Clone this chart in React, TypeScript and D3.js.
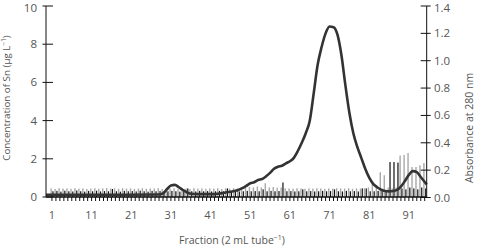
import React from "react";
import * as d3 from "d3";

const fractions = d3.range(1, 96);
const xTickLabels = [1, 11, 21, 31, 41, 51, 61, 71, 81, 91];
const leftTicks = [0, 2, 4, 6, 8, 10];
const rightTicks = [0, 0.2, 0.4, 0.6, 0.8, 1.0, 1.2, 1.4];

// Sn concentration (µg/L), gray bars
const snGray = [
  0.45, 0.42, 0.46, 0.44, 0.45, 0.43, 0.46, 0.44, 0.45, 0.42,
  0.44, 0.46, 0.43, 0.45, 0.47, 0.44, 0.45, 0.43, 0.46, 0.44,
  0.45, 0.42, 0.44, 0.46, 0.43, 0.45, 0.44, 0.46, 0.42, 0.45,
  0.44, 0.46, 0.43, 0.45, 0.44, 0.42, 0.46, 0.44, 0.45, 0.43,
  0.45, 0.44, 0.46, 0.42, 0.45, 0.44, 0.46, 0.45, 0.5, 0.48,
  0.52, 0.5, 0.55, 0.5, 0.72, 0.5, 0.52, 0.48, 0.5, 0.46,
  0.45, 0.44, 0.46, 0.45, 0.43, 0.45, 0.44, 0.46, 0.45, 0.43,
  0.45, 0.44, 0.46, 0.45, 0.44, 0.46, 0.43, 0.45, 0.44, 0.46,
  0.5, 0.8, 0.5, 1.3, 1.14, 0.5, 0.45, 0.5, 2.17, 2.2,
  2.3, 1.57, 1.57, 1.66, 1.78,
];

// Sn concentration (µg/L), black bars
const snBlack = [
  0.3, 0.32, 0.28, 0.33, 0.3, 0.29, 0.34, 0.3, 0.28, 0.32,
  0.3, 0.33, 0.29, 0.31, 0.3, 0.42, 0.3, 0.28, 0.32, 0.3,
  0.31, 0.29, 0.33, 0.3, 0.28, 0.32, 0.3, 0.31, 0.29, 0.3,
  0.32, 0.3, 0.28, 0.31, 0.45, 0.3, 0.29, 0.32, 0.3, 0.31,
  0.29, 0.3, 0.32, 0.3, 0.45, 0.3, 0.31, 0.29, 0.3, 0.32,
  0.3, 0.31, 0.3, 0.4, 0.3, 0.32, 0.3, 0.31, 0.76, 0.3,
  0.31, 0.29, 0.3, 0.4, 0.3, 0.31, 0.29, 0.3, 0.32, 0.3,
  0.31, 0.4, 0.3, 0.29, 0.32, 0.3, 0.31, 0.29, 0.45, 0.45,
  0.3, 0.3, 0.32, 0.35, 0.3, 1.83, 1.83, 1.8, 0.45, 0.4,
  0.5, 0.45, 0.4, 0.5, 0.45,
];

// Absorbance at 280 nm
const absFractions = [
  -0.5, 1, 10, 20, 28, 29, 30, 31, 32, 33, 34, 35, 36, 38, 42, 43, 44, 45, 46, 47, 48,
  49, 50, 51, 52, 53, 54, 55, 56, 57, 58, 59, 60, 61, 62, 63, 64, 65, 66,
  67, 68, 69, 70, 71, 72, 73, 74, 75, 76, 77, 78, 79, 80, 81, 82, 83, 84,
  85, 86, 87, 88, 89, 90, 91, 92, 93, 94, 95.5,
];
const absValues = [
  0.02, 0.02, 0.02, 0.02, 0.022, 0.03, 0.06, 0.088, 0.092, 0.075, 0.055, 0.038, 0.028, 0.025, 0.025, 0.028, 0.032, 0.038, 0.042, 0.048, 0.055,
  0.068, 0.085, 0.104, 0.112, 0.128, 0.135, 0.155, 0.18, 0.21, 0.225, 0.232, 0.25, 0.265, 0.29, 0.34, 0.4, 0.47, 0.56,
  0.76, 0.97, 1.1, 1.2, 1.25, 1.245, 1.19, 1.04, 0.82, 0.62, 0.47, 0.37, 0.29, 0.21, 0.145, 0.1, 0.075, 0.058,
  0.048, 0.045, 0.047, 0.056, 0.08, 0.12, 0.165, 0.193, 0.185, 0.15, 0.095,
];

const W = 480;
const H = 247;
const left = 46;
const right = 426.7;
const top = 6;
const bottom = 197;
const font = "'Open Sans', 'Noto Sans', sans-serif";
const textColor = "#555";

export default function App() {
  const x = d3.scaleLinear().domain([-0.5, 95.5]).range([left, right]);
  const yL = d3.scaleLinear().domain([0, 10]).range([bottom, top]);
  const yR = d3.scaleLinear().domain([0, 1.4]).range([bottom + 0.5, top]);

  const line = d3
    .line<number>()
    .x((_, i) => x(absFractions[i]))
    .y((d) => yR(d))
    .curve(d3.curveMonotoneX);

  return (
    <svg width={W} height={H} style={{ position: "absolute", left: 0, top: 0, background: "#fff" }}>
      {/* gray bars */}
      {fractions.map((f, i) => (
        <rect key={"g" + f} x={x(f) - 1.5} width={1.4} y={yL(snGray[i])} height={bottom - yL(snGray[i])} fill="#a8a8a8" />
      ))}
      {/* black bars */}
      {fractions.map((f, i) => (
        <rect key={"b" + f} x={x(f) + 0.4} width={1.2} y={yL(snBlack[i])} height={bottom - yL(snBlack[i])} fill="#111" />
      ))}
      {/* absorbance curve */}
      <path d={line(absValues) || ""} fill="none" stroke="#333" strokeWidth={2.6} strokeLinejoin="round" />

      {/* x axis */}
      <line x1={left} x2={right} y1={bottom} y2={bottom} stroke="#111" strokeWidth={1.5} />
      {fractions.map((f) => (
        <line key={"xt" + f} x1={x(f)} x2={x(f)} y1={bottom} y2={bottom + 4} stroke="#111" strokeWidth={1} />
      ))}
      {xTickLabels.map((t) => (
        <text key={"xl" + t} x={x(t)} y={219} textAnchor="middle" fontFamily={font} fontSize={11} fill={textColor}>
          {t}
        </text>
      ))}
      <text x={232} y={244} textAnchor="middle" fontFamily={font} fontSize={10.5} fill={textColor}>
        Fraction (2 mL tube
        <tspan fontSize={7} dy={-4}>−1</tspan>
        <tspan dy={4}>)</tspan>
      </text>

      {/* left axis */}
      <line x1={left} x2={left} y1={top} y2={bottom} stroke="#111" strokeWidth={1} />
      {leftTicks.map((t) => (
        <g key={"lt" + t}>
          <line x1={left - 3.5} x2={left + 7} y1={yL(t)} y2={yL(t)} stroke="#111" strokeWidth={1} />
          <text x={37} y={Math.max(yL(t) + 4, 12)} textAnchor="end" fontFamily={font} fontSize={11.5} fill={textColor}>
            {t}
          </text>
        </g>
      ))}
      <text
        transform={`translate(10,${98}) rotate(-90)`}
        textAnchor="middle"
        fontFamily={font}
        fontSize={9.8}
        fill={textColor}
      >
        Concentration of Sn (µg L
        <tspan fontSize={6.5} dy={-4}>−1</tspan>
        <tspan dy={4}>)</tspan>
      </text>

      {/* right axis */}
      <line x1={right} x2={right} y1={top} y2={bottom} stroke="#111" strokeWidth={1} />
      {rightTicks.map((t) => (
        <g key={"rt" + t}>
          <line x1={right - 6} x2={right + 4} y1={yR(t)} y2={yR(t)} stroke="#111" strokeWidth={1} />
          <text x={434} y={Math.max(yR(t) + 4, 12)} textAnchor="start" fontFamily={font} fontSize={11.5} fill={textColor}>
            {t.toFixed(1)}
          </text>
        </g>
      ))}
      <text
        transform={`translate(473,${128}) rotate(-90)`}
        textAnchor="middle"
        fontFamily={font}
        fontSize={10.5}
        fill={textColor}
      >
        Absorbance at 280 nm
      </text>
    </svg>
  );
}
